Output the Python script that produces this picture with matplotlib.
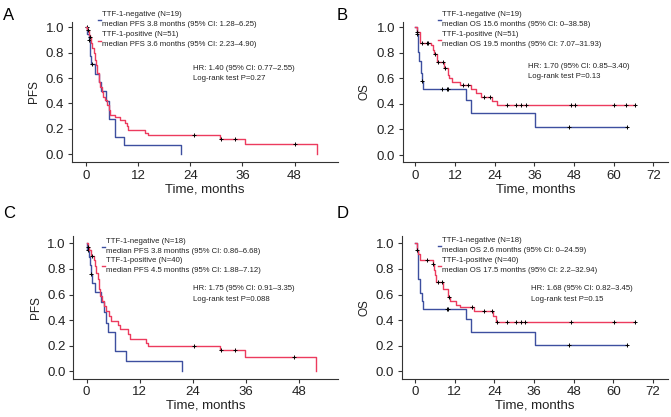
import numpy as np
import matplotlib
matplotlib.use("Agg")
import matplotlib.pyplot as plt
from matplotlib.lines import Line2D

plt.rcParams["font.family"] = ["Liberation Sans", "DejaVu Sans"]

BLUE = "#3d4f9f"
RED = "#ec3b5e"
AXC = "#333333"

# ---- panel A: PFS, cohort 1 ----
neg_a_t = [0, 0.3, 0.6, 0.9, 1.2, 2.0, 3.1, 3.5, 4.6, 5.2, 5.3, 6.6, 8.8, 21.8]
neg_a_s = [1.0, 0.95, 0.90, 0.77, 0.71, 0.63, 0.57, 0.50, 0.42, 0.35, 0.28, 0.14, 0.07, 0.0]
neg_a_c = [0.25, 0.8, 1.3]
pos_a_t = [0, 0.3, 0.6, 0.9, 1.2, 1.5, 1.8, 2.0, 2.3, 2.6, 3.0, 3.3, 3.6, 4.0, 4.4, 4.8,
           5.2, 5.5, 6.8, 7.9, 9.1, 9.5, 9.8, 13.7, 14.2, 30.8, 36.6, 53.2]
pos_a_s = [1.0, 0.98, 0.94, 0.92, 0.88, 0.84, 0.80, 0.74, 0.70, 0.64, 0.57, 0.53, 0.49, 0.45,
           0.43, 0.39, 0.35, 0.31, 0.29, 0.27, 0.25, 0.22, 0.19, 0.17, 0.15, 0.123, 0.083, 0.0]
pos_a_c = [0.5, 1.0, 24.8, 31.1, 34.2, 48.0]

# ---- panel B: OS, cohort 1 ----
neg_b_t = [0, 0.4, 0.7, 0.9, 1.1, 1.6, 2.0, 2.4, 15.3, 17.0, 36.2, 63.9]
neg_b_s = [1.0, 0.95, 0.90, 0.81, 0.74, 0.64, 0.58, 0.52, 0.434, 0.326, 0.217, 0.217]
neg_b_c = [0.5, 2.1, 8.0, 9.5, 10.0, 46.6, 63.9]
pos_b_t = [0, 0.5, 1.4, 4.9, 5.4, 5.8, 6.6, 8.7, 10.0, 10.3, 11.0, 13.5, 17.0, 18.5,
           20.0, 23.2, 24.6, 66.5]
pos_b_s = [1.0, 0.96, 0.88, 0.86, 0.82, 0.79, 0.73, 0.68, 0.63, 0.60, 0.57, 0.545, 0.515,
           0.485, 0.455, 0.42, 0.389, 0.389]
pos_b_c = [0.6, 2.1, 3.5, 3.9, 5.9, 7.0, 8.3, 8.9, 14.5, 15.8, 20.8, 22.5, 27.8, 30.5,
           31.9, 33.4, 47.1, 48.3, 60.2, 63.7, 66.5]

# ---- panel C: PFS, cohort 2 ----
neg_c_t = [0, 0.15, 0.6, 0.75, 0.9, 1.3, 1.9, 3.2, 3.9, 4.4, 4.9, 6.4, 8.9, 21.5]
neg_c_s = [1.0, 0.95, 0.89, 0.83, 0.76, 0.69, 0.62, 0.54, 0.46, 0.38, 0.31, 0.155, 0.078, 0.0]
neg_c_c = [0.3, 1.0]
pos_c_t = [0, 0.3, 0.6, 0.9, 1.7, 2.0, 2.2, 2.5, 2.8, 3.0, 3.4, 3.9, 4.4, 5.0, 5.5, 7.0,
           7.6, 9.3, 9.9, 13.5, 14.0, 30.2, 35.9, 52.0]
pos_c_s = [1.0, 0.97, 0.95, 0.90, 0.87, 0.82, 0.77, 0.72, 0.64, 0.59, 0.55, 0.51, 0.47,
           0.43, 0.39, 0.36, 0.33, 0.29, 0.25, 0.22, 0.20, 0.164, 0.109, 0.0]
pos_c_c = [0.4, 1.2, 24.4, 30.5, 33.5, 47.0]

# ---- panel D: OS, cohort 2 ----
neg_d_t = [0, 0.4, 0.7, 0.9, 1.5, 1.9, 2.4, 15.4, 16.9, 36.4, 64.3]
neg_d_s = [1.0, 0.94, 0.89, 0.72, 0.61, 0.55, 0.49, 0.41, 0.307, 0.205, 0.205]
neg_d_c = [9.5, 10.0, 46.7, 64.3]
pos_d_t = [0, 0.4, 0.8, 1.3, 5.3, 5.6, 6.0, 6.3, 8.5, 10.0, 10.5, 12.3, 13.5, 17.9, 23.7,
           24.5, 66.7]
pos_d_s = [1.0, 0.95, 0.92, 0.872, 0.84, 0.79, 0.75, 0.70, 0.64, 0.58, 0.55, 0.52, 0.505,
           0.47, 0.43, 0.383, 0.383]
pos_d_c = [0.6, 3.7, 5.5, 7.0, 8.2, 10.3, 17.1, 20.8, 23.2, 24.7, 27.9, 30.5, 31.9, 33.4,
           47.2, 60.3, 66.7]

panels = [
    dict(letter="A", ylabel="PFS", xticks=[0, 12, 24, 36, 48],
         rect=[0.1073, 0.6108, 0.3964, 0.3372], xlim=(-3.2, 58.0), ylim=(-0.063, 1.044),
         curves=[(neg_a_t, neg_a_s, neg_a_c, BLUE), (pos_a_t, pos_a_s, pos_a_c, RED)],
         lines=["TTF-1-negative (N=19)", "median PFS 3.8 months (95% CI: 1.28\u20136.25)",
                "TTF-1-positive (N=51)", "median PFS 3.6 months (95% CI: 2.23\u20134.90)"],
         stats=["HR: 1.40 (95% CI: 0.77\u20132.55)", "Log-rank test P=0.27"],
         letter_xy=(3, 15), leg_x=101.7, leg_y=[14, 24, 35, 45], stat_xy=(193, 68.3)),
    dict(letter="B", ylabel="OS", xticks=[0, 12, 24, 36, 48, 60, 72],
         rect=[0.6001, 0.6108, 0.3954, 0.3372], xlim=(-3.8, 76.4), ylim=(-0.057, 1.044),
         curves=[(neg_b_t, neg_b_s, neg_b_c, BLUE), (pos_b_t, pos_b_s, pos_b_c, RED)],
         lines=["TTF-1-negative (N=19)", "median OS 15.6 months (95% CI: 0\u201338.58)",
                "TTF-1-positive (N=51)", "median OS 19.5 months (95% CI: 7.07\u201331.93)"],
         stats=["HR: 1.70 (95% CI: 0.85\u20133.40)", "Log-rank test P=0.13"],
         letter_xy=(337, 15), leg_x=441.7, leg_y=[14, 24, 34, 45], stat_xy=(528.3, 66)),
    dict(letter="C", ylabel="PFS", xticks=[0, 12, 24, 36, 48],
         rect=[0.1092, 0.0918, 0.3945, 0.3415], xlim=(-3.03, 56.9), ylim=(-0.058, 1.055),
         curves=[(neg_c_t, neg_c_s, neg_c_c, BLUE), (pos_c_t, pos_c_s, pos_c_c, RED)],
         lines=["TTF-1-negative (N=18)", "median PFS 3.8 months (95% CI: 0.86\u20136.68)",
                "TTF-1-positive (N=40)", "median PFS 4.5 months (95% CI: 1.88\u20137.12)"],
         stats=["HR: 1.75 (95% CI: 0.91\u20133.35)", "Log-rank test P=0.088"],
         letter_xy=(3, 213), leg_x=106, leg_y=[241.7, 251.3, 260.7, 270.3], stat_xy=(193.3, 288.7)),
    dict(letter="D", ylabel="OS", xticks=[0, 12, 24, 36, 48, 60, 72],
         rect=[0.5987, 0.0918, 0.3969, 0.3415], xlim=(-4.1, 76.6), ylim=(-0.058, 1.055),
         curves=[(neg_d_t, neg_d_s, neg_d_c, BLUE), (pos_d_t, pos_d_s, pos_d_c, RED)],
         lines=["TTF-1-negative (N=18)", "median OS 2.6 months (95% CI: 0\u201324.59)",
                "TTF-1-positive (N=40)", "median OS 17.5 months (95% CI: 2.2\u201332.94)"],
         stats=["HR: 1.68 (95% CI: 0.82\u20133.45)", "Log-rank test P=0.15"],
         letter_xy=(337, 213), leg_x=442.3, leg_y=[240, 250, 260, 270], stat_xy=(531, 288.7)),
]

W, H = 671, 417
fig = plt.figure(figsize=(W / 100, H / 100), dpi=100)


def fx(px):
    return px / W


def fy(py):
    return 1 - py / H


def surv_at(times, surv, t):
    idx = np.searchsorted(times, t, side="right") - 1
    return np.asarray(surv)[idx]


for p in panels:
    ax = fig.add_axes(p["rect"])
    for t, s, cens, col in p["curves"]:
        ax.step(t, s, where="post", color=col, lw=1.0)
        ax.plot(cens, surv_at(t, s, cens), ls="none", marker="+", ms=3.2,
                mew=0.7, color="black")
    ax.set_xlim(*p["xlim"])
    ax.set_ylim(*p["ylim"])
    ax.set_xticks(p["xticks"])
    ax.set_yticks([0.0, 0.2, 0.4, 0.6, 0.8, 1.0])
    ax.set_yticklabels(["0.0", "0.2", "0.4", "0.6", "0.8", "1.0"])
    for side in ["top", "right"]:
        ax.spines[side].set_visible(False)
    for side in ["left", "bottom"]:
        ax.spines[side].set_color(AXC)
        ax.spines[side].set_linewidth(0.8)
    ax.tick_params(direction="out", length=3, width=0.8, color=AXC,
                   labelsize=9.5, labelcolor="#222222", pad=2.5)
    ax.set_xlabel("Time, months", fontsize=9.5, color="#222222", labelpad=1)
    ax.set_ylabel(p["ylabel"], fontsize=8.5, color="#222222", labelpad=4)

    # panel letter
    lx, ly = p["letter_xy"]
    fig.text(fx(lx), fy(ly), p["letter"], fontsize=12, va="center", ha="left")

    # legend block
    for i, txt in enumerate(p["lines"]):
        fig.text(fx(p["leg_x"]), fy(p["leg_y"][i]), txt, fontsize=5.6,
                 va="center", ha="left", color="#222222")
    for k, col in [(0, BLUE), (2, RED)]:
        yy = fy(p["leg_y"][k] + 5.5)
        fig.add_artist(Line2D([fx(p["leg_x"] - 4), fx(p["leg_x"] - 1)], [yy, yy],
                              color=col, lw=1.0, transform=fig.transFigure))

    sx, sy = p["stat_xy"]
    fig.text(fx(sx), fy(sy), p["stats"][0], fontsize=5.6, va="center", ha="left",
             color="#222222")
    fig.text(fx(sx), fy(sy + 10.7), p["stats"][1], fontsize=5.6, va="center",
             ha="left", color="#222222")

fig.savefig("out.png", dpi=100)
